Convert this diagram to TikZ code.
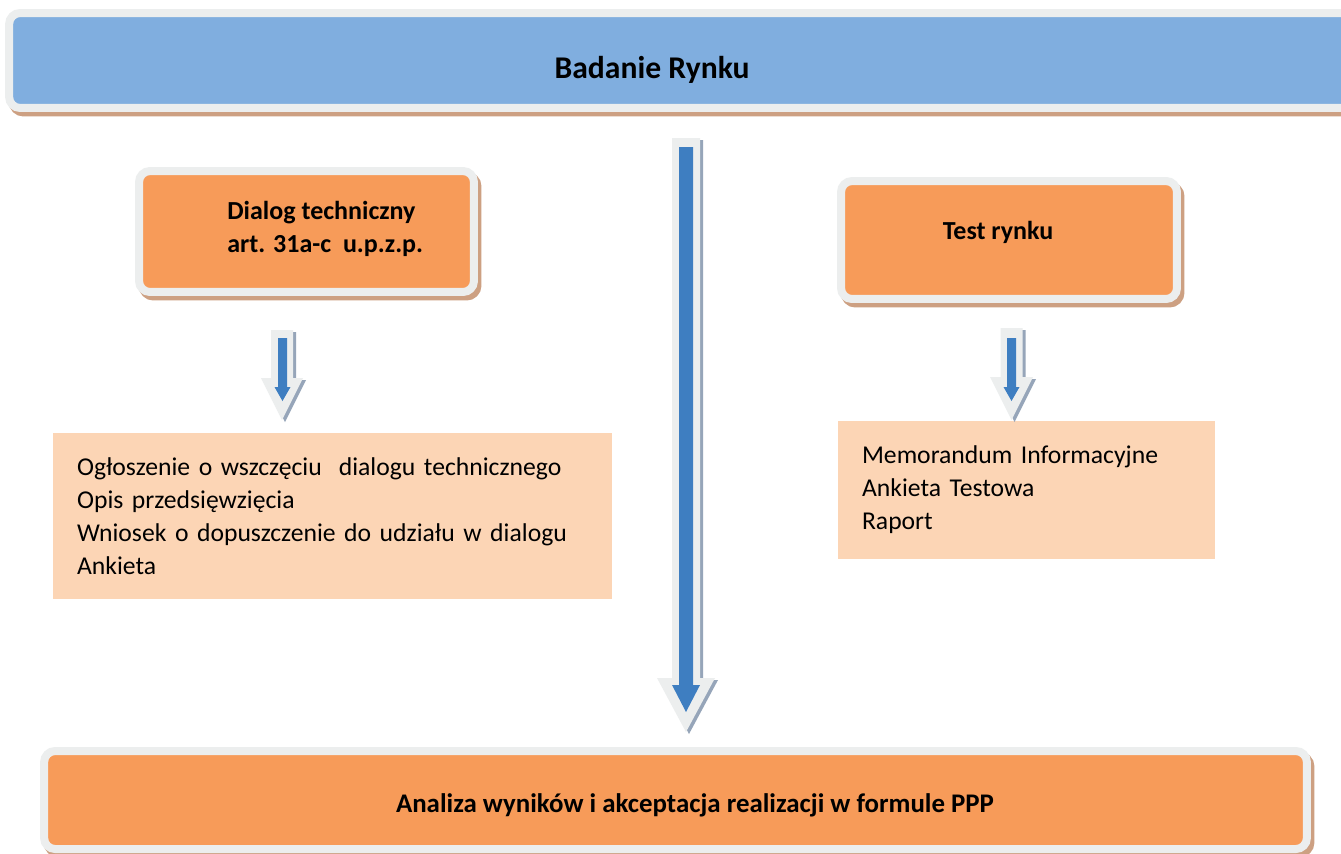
\documentclass[tikz,border=0pt]{standalone}
\usepackage{fontspec}
\setmainfont{Carlito}
\usetikzlibrary{shadows}
\definecolor{barblue}{RGB}{128,174,223}
\definecolor{boxorange}{RGB}{247,155,89}
\definecolor{peach}{RGB}{252,213,181}
\definecolor{framegray}{RGB}{236,238,238}
\definecolor{shadowbrown}{RGB}{205,160,130}
\definecolor{arrowblue}{RGB}{62,126,193}
\definecolor{arrowshadow}{RGB}{150,165,185}
\newcommand\blockarrowshape[7]{%
  \fill[#7] ({#1-#5},#2) -- ({#1+#5},#2) -- ({#1+#5},#3) -- ({#1+#6},#3)
    -- (#1,#4) -- ({#1-#6},#3) -- ({#1-#5},#3) -- cycle;}
\tikzset{
  framebox/.style={draw=framegray, line width=0.16cm, rounded corners=0.22cm,
    inner sep=0pt, text=black,
    drop shadow={shadow xshift=0.07cm, shadow yshift=-0.09cm, fill=shadowbrown,
      draw=shadowbrown, line width=0.16cm, opacity=1}},
  titlebox/.style={framebox, fill=barblue},
  orangebox/.style={framebox, fill=boxorange},
  listbox/.style={fill=peach, inner xsep=0.48cm, inner ysep=0pt, align=left,
    font=\fontsize{14.6}{18.7}\selectfont},
  headtext/.style={font=\fontsize{14.8}{18.7}\selectfont\bfseries, align=left, inner sep=0pt},
}
\begin{document}
\begin{tikzpicture}[x=0.02cm,y=-0.02cm]
\clip (0,0) rectangle (1341,853);
\fill[white] (0,0) rectangle (1341,853);

% top bar
\node[titlebox, minimum width=27.02cm, minimum height=1.9cm] (bar) at (684.5,60.5) {};
\node[font=\fontsize{18}{22}\selectfont\bfseries, inner sep=0pt] (bartext) at (652,70) {Badanie Rynku};

% dialog box
\node[orangebox, minimum width=6.7cm, minimum height=2.42cm] (dialog) at (306.5,231.5) {};
\node[headtext, anchor=west] (dialogtext) at (227,229) {Dialog techniczny\\art. 31a-c\ \ u.p.z.p.};

% test box
\node[orangebox, minimum width=6.72cm, minimum height=2.36cm] (test) at (1009,240) {};
\node[headtext] (testtext) at (998,232) {Test rynku};

% list boxes
\node[listbox, text width=10.22cm, minimum height=3.32cm] (dlist) at (332.5,516)
  {Ogłoszenie o wszczęciu\ \ dialogu technicznego\\Opis przedsięwzięcia\\Wniosek o dopuszczenie do udziału w dialogu\\Ankieta};
\node[listbox, text width=6.58cm, minimum height=2.76cm] (tlist) at (1026.5,490)
  {Memorandum Informacyjne\\Ankieta Testowa\\Raport};

% bottom box
\node[orangebox, minimum width=25.26cm, minimum height=1.96cm] (result) at (675.5,800) {};
\node[headtext, font=\fontsize{15.3}{18.7}\selectfont\bfseries] (resulttext) at (695,805) {Analiza wyników i akceptacja realizacji w formule PPP};

% big arrow: bar -> result
\begin{scope}[shift={(3,2)}]
\blockarrowshape{686}{138}{678}{732}{14}{29}{arrowshadow}
\end{scope}
\blockarrowshape{686}{138}{678}{732}{14}{29}{framegray}
\blockarrowshape{686}{147}{685}{712}{7}{14}{arrowblue}

% left small arrow: dialog -> dlist
\begin{scope}[shift={(3,2)}]
\blockarrowshape{282}{330}{378}{420}{11}{21}{arrowshadow}
\end{scope}
\blockarrowshape{282}{330}{378}{420}{11}{21}{framegray}
\blockarrowshape{282.5}{338}{387}{401}{4.5}{8}{arrowblue}

% right small arrow: test -> tlist
\begin{scope}[shift={(3,2)}]
\blockarrowshape{1011.5}{328}{377}{420}{11}{21.5}{arrowshadow}
\end{scope}
\blockarrowshape{1011.5}{328}{377}{420}{11}{21.5}{framegray}
\blockarrowshape{1011.5}{338}{387}{401}{4.5}{8}{arrowblue}
\end{tikzpicture}
\end{document}
